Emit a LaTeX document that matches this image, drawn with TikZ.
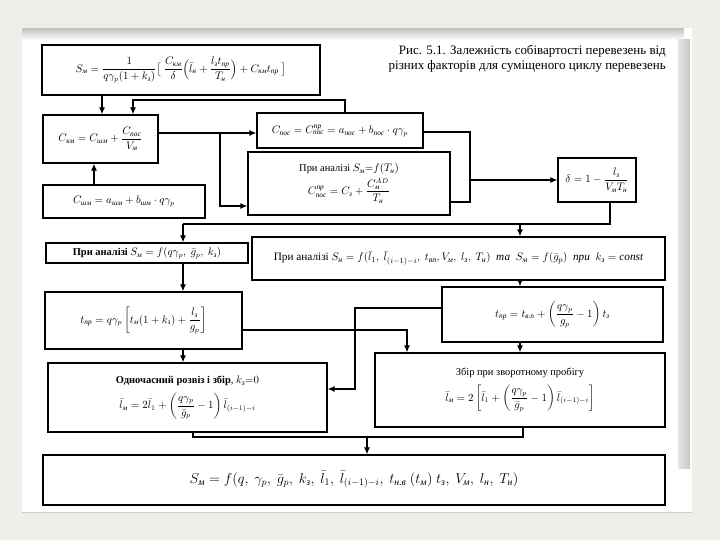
\documentclass[tikz,border=0pt]{standalone}
\usepackage{amsmath}
\usepackage{fontspec}
\setmainfont{Liberation Serif}
\usetikzlibrary{arrows.meta}
\newcommand\cy[1]{\text{\itshape #1}}
\definecolor{bgc}{HTML}{EFEEE9}
\newcommand\mybox[6]{\node[bx, minimum width={(#4-#2)*1bp}, minimum height={(#5-#3)*1bp}] (#1) at ({(#2+#4)/2},{(#3+#5)/2}) {#6};}
\begin{document}
\begin{tikzpicture}[x=1bp,y=-1bp,
  bx/.style={draw, line width=1.4pt, inner sep=0pt, font=\fontsize{10.5}{13}\selectfont, align=center},
  ln/.style={line width=1.1pt},
  ar/.style={line width=1.1pt, -{Latex[length=7pt,width=6pt]}}]
% frame
\fill[bgc] (0,0) rectangle (720,540);
\fill[white] (22,28) rectangle (692,512);
\shade[top color=gray!45, bottom color=white] (22,29) rectangle (684,40);
\shade[left color=gray!20, right color=gray!45] (678,40) rectangle (690,468);
\draw[gray!40, line width=0.8pt] (22,512) -- (692,512);
\useasboundingbox (0,0) rectangle (720,540);
% caption
\node[anchor=north east, align=right, font=\fontsize{13}{15.5}\selectfont, inner sep=0pt] (cap) at (666,45)
  {Рис. 5.1. Залежність собівартості перевезень від\\різних факторів для суміщеного циклу перевезень};
% boxes
\mybox{top}{42}{45}{320}{95}{$\displaystyle S_{\cy{м}}=\frac{1}{q\gamma_p(1+k_{\cy{з}})}\bigl[\;\frac{C_{\cy{км}}}{\delta}\Bigl(\bar l_{\cy{н}}+\frac{l_{\cy{з}}t_{\cy{пр}}}{T_{\cy{н}}}\Bigr)+C_{\cy{км}}t_{\cy{пр}}\;\bigr]$}
\mybox{cm}{43}{115}{158}{163}{$\displaystyle C_{\cy{км}}=C_{\cy{шм}}+\frac{C_{\cy{пос}}}{V_{\cy{м}}}$}
\mybox{csh}{43}{185}{205}{218}{$C_{\cy{шм}}=a_{\cy{шм}}+b_{\cy{шм}}\cdot q\gamma_p$}
\mybox{cpos}{257}{113}{423}{148}{$C_{\cy{пос}}=C^{\cy{пр}}_{\cy{пос}}=a_{\cy{пос}}+b_{\cy{пос}}\cdot q\gamma_p$}
\mybox{tn}{248}{152}{450}{215}{При аналізі $S_{\cy{м}}{=}f(T_{\cy{н}})$\\[3pt]$\displaystyle C^{\cy{пр}}_{\cy{пос}}=C_{\cy{з}}+\frac{C^{AD}_{\cy{м}}}{T_{\cy{н}}}$}
\mybox{delta}{558}{158}{636}{202}{$\displaystyle \delta=1-\frac{l_{\cy{з}}}{V_{\cy{м}}T_{\cy{н}}}$}
\mybox{l1}{46}{243}{248}{263}{\textbf{При аналізі} $S_{\cy{м}}=f(q\gamma_p,\ \bar g_{p},\ k_{\cy{з}})$}
\mybox{r1}{252}{237}{665}{280}{\fontsize{11.3}{13}\selectfont При аналізі $S_{\cy{н}}=f(\bar l_1,\ \bar l_{(i-1)-i},\ t_{\cy{вп}},V_{\cy{м}},\ l_{\cy{з}},\ T_{\cy{н}})$ \ \textit{та} \ $S_{\cy{м}}=f(\bar g_p)$ \ \textit{при} \ $k_{\cy{з}}=\mathit{const}$}
\mybox{l2}{45}{292}{242}{349}{$\displaystyle t_{\cy{пр}}=q\gamma_p\left[t_{\cy{м}}(1+k_{\cy{з}})+\frac{l_{\cy{з}}}{g_p}\right]$}
\mybox{r2}{442}{287}{663}{342}{$\displaystyle t_{\cy{пр}}=t_{\cy{в.п}}+\left(\frac{q\gamma_p}{g_p}-1\right)t_{\cy{з}}$}
\mybox{l3}{48}{363}{327}{432}{\textbf{Одночасний розвіз і збір}, $k_{\cy{з}}{=}0$\\[6pt]$\displaystyle \bar l_{\cy{м}}=2\bar l_1+\left(\frac{q\gamma_p}{\bar g_p}-1\right)\bar l_{(i-1)-i}$}
\mybox{r3}{375}{353}{665}{427}{Збір при зворотному пробігу\\[6pt]$\displaystyle \bar l_{\cy{м}}=2\left[\bar l_1+\left(\frac{q\gamma_p}{\bar g_p}-1\right)\bar l_{(i-1)-i}\right]$}
\node[bx, font=\fontsize{14}{16}\selectfont, minimum width=622bp, minimum height=50bp] (fin) at (354,480)
  {$S_{\cy{м}}=f(q,\ \gamma_p,\ \bar g_p,\ k_{\cy{з}},\ \bar l_1,\ \bar l_{(i-1)-i},\ t_{\cy{н.в}}\ (t_{\cy{м}})\ t_{\cy{з}},\ V_{\cy{м}},\ l_{\cy{н}},\ T_{\cy{н}})$};
% helper coordinates
\coordinate (x102) at (102,0);
\coordinate (x133) at (133,0);
\coordinate (x94) at (94,0);
\coordinate (j1) at (345,100);
\coordinate (y133) at (0,133);
\coordinate (j2) at (220,133);
\coordinate (y206) at (0,206);
\coordinate (j3) at (470,132);
\coordinate (j4) at (470,202);
\coordinate (j5) at (470,180);
\coordinate (j6) at (610,224);
\coordinate (j7) at (183,224);
\coordinate (j8) at (520,224);
\coordinate (x183) at (183,0);
\coordinate (x520) at (520,0);
\coordinate (j9) at (407,330);
\coordinate (j10) at (355,308);
\coordinate (y389) at (0,389);
\coordinate (j11) at (193,437);
\coordinate (j12) at (523,437);
\coordinate (j13) at (367,437);
% connectors
\draw[ar] (top.south -| x102) -- (cm.north -| x102);
\draw[ar] (cpos.north -| j1) -- (j1) -| (cm.north -| x133);
\draw[ar] (csh.north -| x94) -- (cm.south -| x94);
\draw[ar] (cm.east |- y133) -- (cpos.west |- y133);
\draw[ar] (j2) |- (tn.west |- y206);
\draw[ln] (cpos.east |- j3) -- (j3) -- (j4) -- (tn.east |- j4);
\draw[ar] (j5) -- (delta.west |- j5);
\draw[ln] (delta.south -| j6) -- (j6) -- (j7);
\draw[ar] (j7) -- (l1.north -| j7);
\draw[ar] (j8) -- (r1.north -| j8);
\draw[ar] (l1.south -| x183) -- (l2.north -| x183);
\draw[ar] (r1.south -| x520) -- (r2.north -| x520);
\draw[ar] (l2.east |- j9) -| (r3.north -| j9);
\draw[ar] (r2.west |- j10) -- (j10) |- (l3.east |- y389);
\draw[ar] (l2.south -| x183) -- (l3.north -| x183);
\draw[ar] (r2.south -| x520) -- (r3.north -| x520);
\draw[ln] (l3.south -| j11) -- (j11) -- (j12) -- (r3.south -| j12);
\draw[ar] (j13) -- (fin.north -| j13);
\end{tikzpicture}
\end{document}
